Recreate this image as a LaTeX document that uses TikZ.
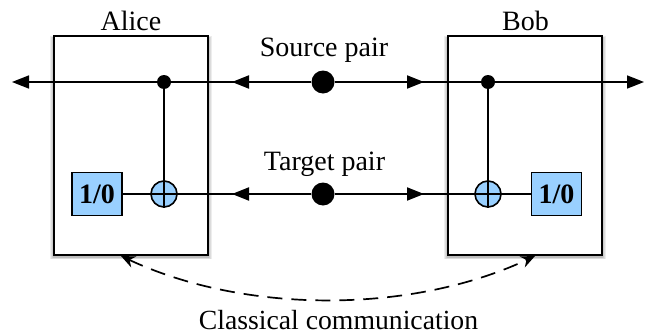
\documentclass[tikz,border=0pt]{standalone}
\usepackage{fontspec}
\setmainfont{Liberation Serif}
\usetikzlibrary{arrows.meta}
\definecolor{gatefill}{RGB}{153,208,255}
\tikzset{
  lab/.style={inner sep=0pt,anchor=base,font=\fontsize{28}{30}\selectfont},
  party/.style={draw=black,line width=1.8pt,fill=white,minimum width=154pt,minimum height=219pt,inner sep=0pt},
  gatebox/.style={draw=black,line width=1.5pt,fill=gatefill,minimum width=50pt,minimum height=43pt,inner sep=0pt,font=\fontsize{28}{30}\selectfont\bfseries},
  ctrl/.style={circle,fill=black,minimum size=14pt,inner sep=0pt},
  pairdot/.style={circle,fill=black,minimum size=23pt,inner sep=0pt},
  xorgate/.style={circle,draw=black,line width=1.6pt,fill=gatefill,minimum size=26pt,inner sep=0pt},
  wire/.style={line width=1.7pt},
  tipwire/.style={line width=2pt,-{Triangle[length=17pt,width=13pt]}},
  classical/.style={line width=1.7pt,dash pattern=on 15pt off 9pt,{Stealth[length=14pt,width=12pt]}-{Stealth[length=14pt,width=12pt]}},
  shadowbox/.style 2 args={fill=black,opacity=0.07,minimum width=#1,minimum height=#2,inner sep=0pt}
}
\begin{document}
\begin{tikzpicture}[x=1pt,y=1pt]
\useasboundingbox (0,0) rectangle (647,333);
% soft shadows
\foreach \cx in {131,525}{
  \node[shadowbox={162pt}{223pt}] at (\cx,185.5) {};
  \node[shadowbox={160pt}{222pt}] at (\cx,185.5) {};
  \node[shadowbox={158pt}{221pt}] at (\cx,185.5) {};
  \node[shadowbox={156pt}{220pt}] at (\cx,185.5) {};
}
\node[party] (alice) at (131,187.5) {};
\node[party] (bob) at (525,187.5) {};
\node[lab] (alicet) at (131,303) {Alice};
\node[lab] (bobt) at (525.5,303) {Bob};
\node[lab] (srct) at (324,277) {Source pair};
\node[lab] (tgtt) at (324.5,163) {Target pair};
\node[lab,font=\fontsize{27.7}{30}\selectfont] (clst) at (338.5,4) {Classical communication};
% free ends of the wires
\coordinate (farL) at (12,251);
\coordinate (farR) at (644,251);
\coordinate (srcL) at (232,251);
\coordinate (srcR) at (424,251);
\coordinate (tgtL) at (232,139);
\coordinate (tgtR) at (424,139);
% wire elements
\node[pairdot] (src) at (323,251) {};
\node[pairdot] (tgt) at (323,139) {};
\node[ctrl] (cA) at (164,251) {};
\node[ctrl] (cB) at (488,251) {};
\coordinate (xAc) at (164,139);
\coordinate (xBc) at (488,139);
\node[gatebox] (mA) at (97,139) {1/0};
\node[gatebox] (mB) at (556.5,139) {1/0};
% wires
\draw[wire] (src) -- (cA);
\draw[wire] (src) -- (cB);
\draw[wire] (tgt) -- (xAc);
\draw[wire] (tgt) -- (xBc);
\draw[wire] (xAc) -- (mA);
\draw[wire] (xBc) -- (mB);
\draw[wire] (cA) -- (xAc);
\draw[wire] (cB) -- (xBc);
\draw[wire,-{Triangle[length=17pt,width=13pt]}] (cA) -- (farL);
\draw[wire,-{Triangle[length=17pt,width=13pt]}] (cB) -- (farR);
\draw[tipwire] (src) -- (srcL);
\draw[tipwire] (src) -- (srcR);
\draw[tipwire] (tgt) -- (tgtL);
\draw[tipwire] (tgt) -- (tgtR);
% XOR gates
\node[xorgate] (xA) at (xAc) {};
\node[xorgate] (xB) at (xBc) {};
\draw[line width=1.3pt] (xA.north) -- (xA.south) (xA.west) -- (xA.east);
\draw[line width=1.3pt] (xB.north) -- (xB.south) (xB.west) -- (xB.east);
% classical link
\coordinate (clA) at (121,77);
\coordinate (clB) at (535,77);
\draw[classical] (clA) .. controls (245,19) and (411,19) .. (clB);
\end{tikzpicture}
\end{document}
